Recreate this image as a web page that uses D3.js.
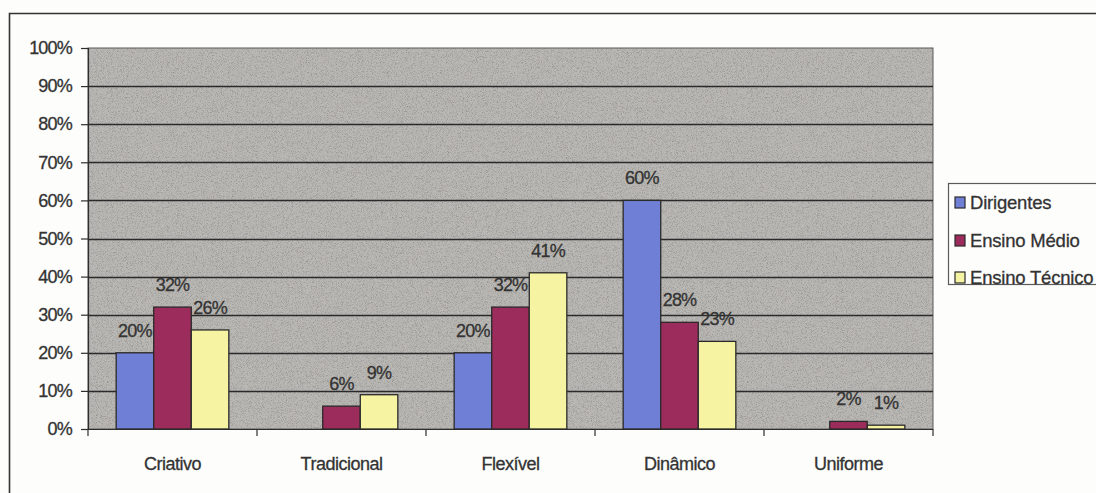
<!DOCTYPE html>
<html>
<head>
<meta charset="utf-8">
<script src="https://cdn.jsdelivr.net/npm/d3@7"></script>
<style>
  html, body { margin: 0; padding: 0; background: #fdfdfb; }
  svg { display: block; }
  text { font-family: "Liberation Sans", Arial, sans-serif; fill: #333; stroke: #333; stroke-width: 0.3px; }
</style>
</head>
<body>
<svg id="chart" width="1096" height="493"></svg>
<script>
// Perfil da escola segundo cada grupo (%)
const categories = ["Criativo", "Tradicional", "Flexível", "Dinâmico", "Uniforme"];
const seriesNames = ["Dirigentes", "Ensino Médio", "Ensino Técnico"];
const dirigentes = [20, 0, 20, 60, 0];
const ensinoMedio = [32, 6, 32, 28, 2];
const ensinoTecnico = [26, 9, 41, 23, 1];
const yTicks = [0, 10, 20, 30, 40, 50, 60, 70, 80, 90, 100];
const colors = ["#6f7fd6", "#9c2c5b", "#f6f3a2"];

const seriesValues = [dirigentes, ensinoMedio, ensinoTecnico];

const svg = d3.select("#chart");
const plot = { left: 88, right: 933, top: 48, bottom: 429 };

// grain for the grey plot background
const defs = svg.append("defs");
const grain = defs.append("filter").attr("id", "grain")
  .attr("x", 0).attr("y", 0).attr("width", "100%").attr("height", "100%");
grain.append("feTurbulence").attr("type", "fractalNoise")
  .attr("baseFrequency", 1.2).attr("numOctaves", 2).attr("seed", 3).attr("result", "noise");
grain.append("feColorMatrix").attr("in", "noise").attr("type", "matrix")
  .attr("values", "0 0 0 0 0  0 0 0 0 0  0 0 0 0 0  0 0 0 -1.0 0.55")
  .attr("result", "dots");
grain.append("feComposite").attr("in", "dots").attr("in2", "SourceGraphic").attr("operator", "in").attr("result", "dotsIn");
grain.append("feMerge").selectAll("feMergeNode")
  .data(["SourceGraphic", "dotsIn"]).join("feMergeNode").attr("in", d => d);

// outer chart frame (top and left edges)
svg.append("path")
  .attr("d", "M9.5,493 L9.5,13.5 L1096,13.5")
  .attr("fill", "none").attr("stroke", "#333").attr("stroke-width", 1.6);

const x0 = d3.scaleBand().domain(categories).range([plot.left, plot.right]).paddingInner(0).paddingOuter(0);
const bandW = x0.bandwidth();
const barW = bandW / 4.5;
const x1 = d3.scaleBand().domain(seriesNames)
  .range([(bandW - 3 * barW) / 2, (bandW + 3 * barW) / 2]).padding(0);
const y = d3.scaleLinear().domain([0, 100]).range([plot.bottom, plot.top]);

// plot background
svg.append("rect")
  .attr("x", plot.left).attr("y", plot.top)
  .attr("width", plot.right - plot.left).attr("height", plot.bottom - plot.top)
  .attr("fill", "#bab8b4").attr("filter", "url(#grain)");
svg.append("rect")
  .attr("x", plot.left).attr("y", plot.top)
  .attr("width", plot.right - plot.left).attr("height", plot.bottom - plot.top)
  .attr("fill", "none").attr("stroke", "#5a5a5a").attr("stroke-width", 1);

// horizontal gridlines
svg.append("g").selectAll("line")
  .data(yTicks.filter(t => t > 0 && t < 100)).join("line")
  .attr("x1", plot.left).attr("x2", plot.right)
  .attr("y1", d => Math.round(y(d)) + 0.5).attr("y2", d => Math.round(y(d)) + 0.5)
  .attr("stroke", "#2a2a2a").attr("stroke-width", 1.4);

// y axis
const yAxis = d3.axisLeft(y).tickValues(yTicks).tickFormat(d => d + "%").tickSize(7).tickPadding(9);
const gy = svg.append("g").attr("transform", `translate(${plot.left},0)`).call(yAxis);
gy.select(".domain").attr("stroke", "#2e2e2e").attr("stroke-width", 1.2);
gy.selectAll(".tick line").attr("stroke", "#2e2e2e").attr("stroke-width", 1.2);
gy.selectAll(".tick text")
  .attr("font-size", 18).attr("letter-spacing", "-0.8px").attr("fill", "#333")
  .attr("font-family", "'Liberation Sans', Arial, sans-serif");

// x axis: ticks at category boundaries
const gx = svg.append("g").attr("transform", `translate(0,${plot.bottom})`);
gx.append("line").attr("x1", plot.left).attr("x2", plot.right)
  .attr("y1", 0.5).attr("y2", 0.5).attr("stroke", "#2e2e2e").attr("stroke-width", 1.2);
const boundaries = categories.map(c => x0(c)).concat([plot.right]);
gx.selectAll("line.tick").data(boundaries).join("line").attr("class", "tick")
  .attr("x1", d => d).attr("x2", d => d).attr("y1", 0).attr("y2", 7)
  .attr("stroke", "#2e2e2e").attr("stroke-width", 1.2);
gx.selectAll("text").data(categories).join("text")
  .attr("x", d => x0(d) + bandW / 2).attr("y", 41)
  .attr("text-anchor", "middle").attr("font-size", 18).attr("letter-spacing", "-0.5px")
  .text(d => d);

// bars
const groups = svg.append("g").selectAll("g")
  .data(categories).join("g")
  .attr("transform", d => `translate(${x0(d)},0)`);

const cells = (c, ci) => seriesNames.map((s, si) => ({ s, si, v: seriesValues[si][ci] }));

groups.selectAll("rect")
  .data((c, ci) => cells(c, ci).filter(d => d.v > 0)).join("rect")
  .attr("x", d => x1(d.s)).attr("width", x1.bandwidth())
  .attr("y", d => y(d.v)).attr("height", d => y(0) - y(d.v))
  .attr("fill", d => colors[d.si])
  .attr("stroke", "#2a2a2a").attr("stroke-width", 1.3);

// value labels
groups.selectAll("text")
  .data((c, ci) => cells(c, ci).filter(d => d.v > 0)).join("text")
  .attr("x", d => x1(d.s) + x1.bandwidth() / 2)
  .attr("y", d => y(d.v) - 16)
  .attr("text-anchor", "middle").attr("font-size", 18).attr("letter-spacing", "-0.8px")
  .text(d => d.v + "%");

// legend
const legend = svg.append("g");
legend.append("rect").attr("x", 948.5).attr("y", 183.5).attr("width", 160).attr("height", 101)
  .attr("fill", "#fdfdfb").attr("stroke", "#5a5a5a").attr("stroke-width", 1.2);
const legendY = [202, 240, 277];
const items = legend.selectAll("g.item").data(seriesNames).join("g").attr("class", "item")
  .attr("transform", (d, i) => `translate(955,${legendY[i]})`);
items.append("rect").attr("x", 0).attr("y", -5).attr("width", 10).attr("height", 11)
  .attr("fill", (d, i) => colors[i]).attr("stroke", "#2a2a2a").attr("stroke-width", 1.2);
items.append("text").attr("x", 15).attr("y", 6.5)
  .attr("font-size", 18.5).attr("letter-spacing", "-0.2px")
  .text(d => d);
</script>
</body>
</html>
